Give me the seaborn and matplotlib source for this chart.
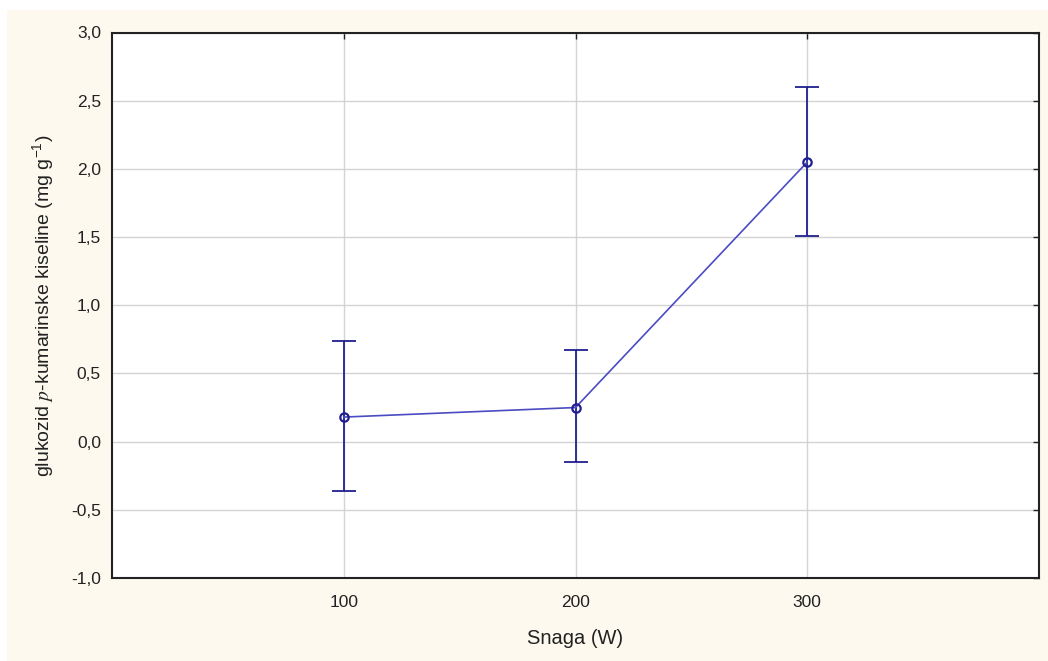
import numpy as np
import pandas as pd
import matplotlib
matplotlib.use('Agg')
import matplotlib.pyplot as plt
from matplotlib.ticker import FuncFormatter
from matplotlib.patches import Rectangle
import seaborn as sns

# values
snaga = [100, 200, 300]
srednja = [0.18, 0.25, 2.05]
donja = [-0.36, -0.15, 1.51]
gornja = [0.74, 0.67, 2.60]

df = pd.DataFrame({'snaga': snaga, 'srednja': srednja, 'donja': donja, 'gornja': gornja})

sns.set_style('white')
plt.rcParams['font.family'] = ['Liberation Sans', 'DejaVu Sans']
plt.rcParams['mathtext.fontset'] = 'stix'

navy = '#1f1f8f'
line_col = '#4b4bc4'
cream = '#fdf9ee'

fig = plt.figure(figsize=(10.48, 6.61), dpi=100, facecolor='white')
fig.patches.append(Rectangle((7 / 1048, 0), 1, 1 - 10 / 661, transform=fig.transFigure,
                             facecolor=cream, edgecolor='none', zorder=-10))
ax = fig.add_axes([112 / 1048, (661 - 578) / 661, (1039 - 112) / 1048, (578 - 32.5) / 661])
ax.set_facecolor('white')

sns.lineplot(data=df, x='snaga', y='srednja', ax=ax, color=line_col, linewidth=1.2,
             marker='o', markersize=6, markerfacecolor='none', markeredgecolor=navy,
             markeredgewidth=1.6, zorder=4)
ax.errorbar(df['snaga'], df['srednja'],
            yerr=[df['srednja'] - df['donja'], df['gornja'] - df['srednja']],
            fmt='none', ecolor=navy, elinewidth=1.3, capsize=8.5, capthick=1.3, zorder=3)

ax.set_xlim(0, 400)
ax.set_ylim(-1.0, 3.0)
ax.set_xticks(snaga)
ax.set_yticks(np.arange(-1.0, 3.01, 0.5))
ax.yaxis.set_major_formatter(FuncFormatter(lambda v, p: f'{v:.1f}'.replace('.', ',')))
ax.grid(True, color='#d4d4d4', linewidth=1)
ax.set_axisbelow(True)

for s in ax.spines.values():
    s.set_color('#222222')
    s.set_linewidth(1.5)
ax.tick_params(axis='both', direction='in', length=4, width=1, colors='#222222',
               labelsize=12.5, top=True, right=True)
ax.tick_params(axis='x', pad=12)
ax.tick_params(axis='y', pad=8)

ax.set_xlabel('Snaga (W)', fontsize=14.5, labelpad=14, color='#222222')
ax.set_ylabel(r'glukozid $p$-kumarinske kiseline (mg g$^{\mathregular{-1}}$)',
              fontsize=14, labelpad=10, color='#222222')

fig.savefig('out.png', dpi=100, facecolor=fig.get_facecolor())
